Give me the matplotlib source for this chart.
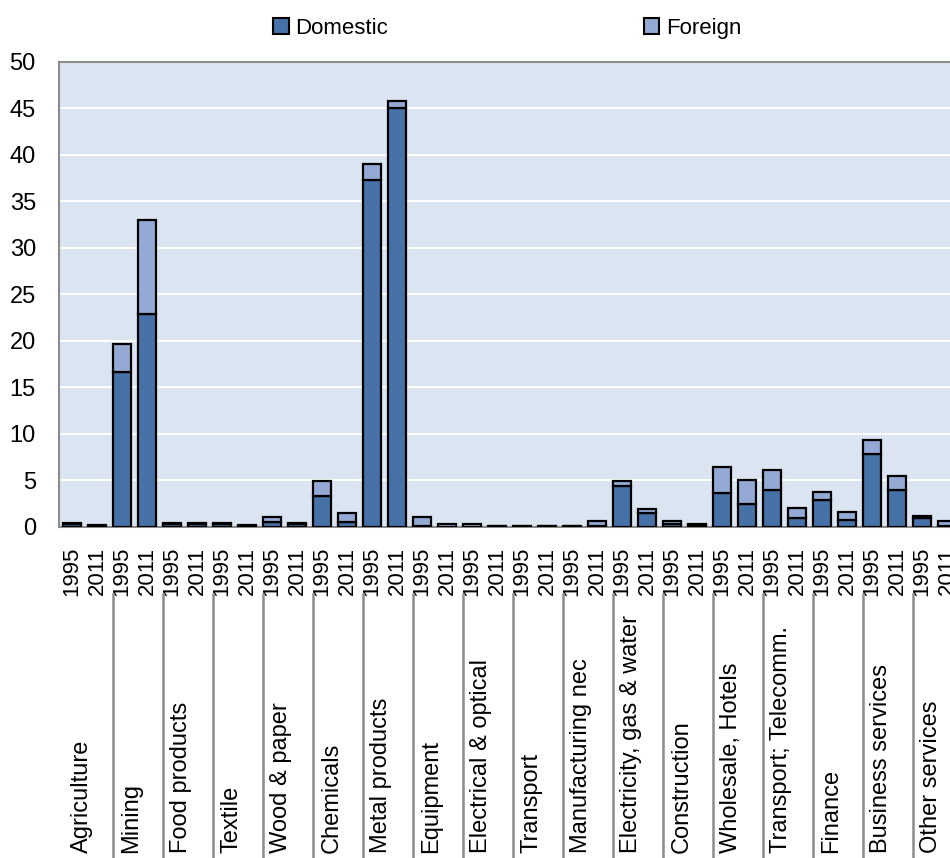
import matplotlib
matplotlib.use("Agg")
import matplotlib.pyplot as plt
import numpy as np
from matplotlib.patches import Patch
from matplotlib.transforms import blended_transform_factory

plt.rcParams["font.family"] = ["Liberation Sans", "DejaVu Sans"]

# Data ------------------------------------------------------------------------
sectors = ["Agriculture", "Mining", "Food products", "Textile", "Wood & paper",
           "Chemicals", "Metal products", "Equipment", "Electrical & optical",
           "Transport", "Manufacturing nec", "Electricity, gas & water",
           "Construction", "Wholesale, Hotels", "Transport; Telecomm.",
           "Finance", "Business services", "Other services"]
years = ["1995", "2011"]

# pairs: (1995, 2011) for each sector
domestic = [0.35, 0.15, 16.7, 22.9, 0.35, 0.35, 0.35, 0.15, 0.55, 0.35,
            3.35, 0.55, 37.3, 45.0, 0.10, 0.05, 0.05, 0.10, 0.10, 0.10,
            0.10, 0.10, 4.40, 1.55, 0.35, 0.25, 3.70, 2.50, 4.00, 1.00,
            2.95, 0.80, 7.85, 4.00, 0.95, 0.15]
foreign = [0.05, 0.05, 3.0, 10.1, 0.05, 0.05, 0.05, 0.05, 0.50, 0.05,
           1.55, 0.90, 1.70, 0.80, 0.95, 0.30, 0.30, 0.05, 0.05, 0.05,
           0.05, 0.50, 0.50, 0.35, 0.25, 0.10, 2.70, 2.55, 2.10, 1.05,
           0.85, 0.80, 1.50, 1.50, 0.25, 0.45]

c_dom = "#4672A7"
c_for = "#94A9D3"

# Figure ----------------------------------------------------------------------
fig = plt.figure(figsize=(9.5, 8.58), dpi=100)
# axes run past the right edge, as in the reference (cropped)
ax = fig.add_axes([0.0626, 0.3858, 0.9474, 0.542])
ax.set_facecolor("#DBE5F1")

x = np.arange(len(domestic))
ax.bar(x, domestic, width=0.74, color=c_dom, edgecolor="black", linewidth=1.6, zorder=3)
ax.bar(x, foreign, width=0.74, bottom=domestic, color=c_for, edgecolor="black",
       linewidth=1.6, zorder=3)

ax.set_xlim(-0.5, len(x) - 0.5)
ax.set_ylim(0, 50)
ax.set_yticks(np.arange(0, 51, 5))
ax.yaxis.grid(True, color="white", linewidth=1.5, zorder=0)
ax.set_axisbelow(True)
for s in ax.spines.values():
    s.set_color("#8C8C8C")
    s.set_linewidth(1.5)
ax.tick_params(axis="y", length=0, pad=17, labelsize=17)
ax.set_xticks(x)
ax.set_xticklabels(years * len(sectors), rotation=90, fontsize=16)
ax.tick_params(axis="x", length=0, pad=14)

# Group separators and sector labels
trans = blended_transform_factory(ax.transData, fig.transFigure)
for i, name in enumerate(sectors):
    left = 2 * i - 0.5 + 0.14
    if i > 0:
        ax.plot([left, left], [0, (858 - 594) / 858], color="#8C8C8C", linewidth=1.8,
                transform=trans, clip_on=False)
    ax.text(left + 0.3, (858 - 853) / 858, name, rotation=90, ha="left", va="bottom",
            fontsize=17, transform=trans, clip_on=False)

handles = [Patch(facecolor=c_dom, edgecolor="black", linewidth=1.5, label="Domestic"),
           Patch(facecolor=c_for, edgecolor="black", linewidth=1.5, label="Foreign")]
fig.legend(handles=handles, loc="center", bbox_to_anchor=(0.534, 0.967), ncol=2,
           frameon=False, fontsize=16, handlelength=0.7, handleheight=0.7,
           handletextpad=0.3, columnspacing=11.5, borderpad=0)

fig.savefig("out.png", dpi=100)
